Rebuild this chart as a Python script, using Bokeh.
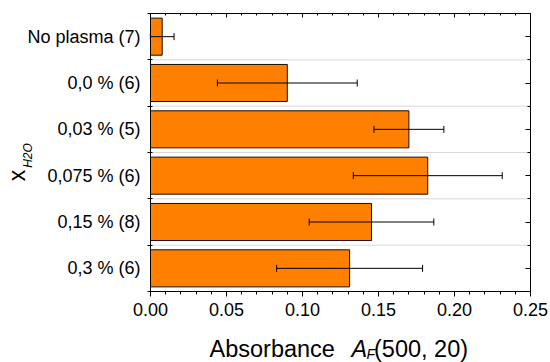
import math
from bokeh.plotting import figure
from bokeh.models import (Range1d, FixedTicker, LinearAxis, Label,
                          Whisker, TeeHead, ColumnDataSource, NumeralTickFormatter,
                          CustomJSTickFormatter)
from bokeh.embed import file_html
from bokeh.resources import INLINE

# ---- data (top row first) ----
categories = ["No plasma (7)", "0,0 % (6)", "0,03 % (5)", "0,075 % (6)", "0,15 % (8)", "0,3 % (6)"]
absorbance = [0.0077, 0.090, 0.170, 0.1824, 0.1454, 0.131]
errors = [0.0078, 0.046, 0.023, 0.049, 0.041, 0.048]
x_ticks = [0.0, 0.05, 0.10, 0.15, 0.20, 0.25]
x_minor_step = 0.01
x_title = ["Absorbance", "A", "F", "(500, 20)"]
y_title = ["x", "H2O"]

FONT = "Liberation Sans"
n = len(categories)
ypos = [n - 1 - i for i in range(n)]
bounds_y = [i - 0.5 for i in range(n + 1)]
lower = [a - e for a, e in zip(absorbance, errors)]
upper = [a + e for a, e in zip(absorbance, errors)]
src = ColumnDataSource(dict(y=ypos, v=absorbance, lo=lower, hi=upper))

# page geometry of the plot box (pixels)
W, H = 550, 362
FL, FR, FT, FB = 150, 530, 13, 291
X0, X1 = x_ticks[0], x_ticks[-1]
Y0, Y1 = -0.5, n - 0.5
sx = (X1 - X0) / (FR - FL)
sy = (Y1 - Y0) / (FB - FT)


def dx(px):
    return X0 + (px - FL) * sx


def dy(py):
    return Y1 - (py - FT) * sy


p = figure(width=W, height=H,
           x_range=Range1d(dx(0), dx(W)), y_range=Range1d(dy(H), dy(0)),
           output_backend="svg", toolbar_location=None, min_border=0,
           x_axis_location="below", y_axis_location="left")
p.background_fill_color = "white"
p.border_fill_color = "white"
p.outline_line_color = None
p.xgrid.visible = False
p.ygrid.visible = False

# dotted separators between categories
inner = bounds_y[1:-1]
p.segment(x0=[X0] * len(inner), x1=[X1] * len(inner), y0=inner, y1=inner,
          line_color="#b0b0b0", line_dash="1 1", line_width=1)

p.hbar(y="y", left=0, right="v", height=0.8, source=src,
       fill_color="#FF8000", line_color="#1a0d00", line_width=1)

w = Whisker(source=src, base="y", lower="lo", upper="hi", dimension="width",
            line_color="black", line_width=1, level="overlay",
            upper_head=TeeHead(size=7, line_color="black", line_width=1),
            lower_head=TeeHead(size=7, line_color="black", line_width=1))
p.add_layout(w)

blank = CustomJSTickFormatter(code="return ''")
x_minor = [round(x_minor_step * i, 2) for i in range(int(round((X1 - X0) / x_minor_step)) + 1)]


def style_axis(ax):
    ax.axis_line_color = "black"
    ax.axis_line_width = 1
    ax.major_tick_line_color = "black"
    ax.minor_tick_line_color = "black"
    ax.major_label_text_font = FONT
    ax.major_label_text_font_size = "18px"
    ax.major_label_text_color = "black"


# bottom axis
xa = p.xaxis[0]
style_axis(xa)
xa.fixed_location = Y0
xa.bounds = (X0, X1)
xa.ticker = FixedTicker(ticks=x_ticks, minor_ticks=x_minor)
xa.formatter = NumeralTickFormatter(format="0.00")
xa.major_tick_in = 0
xa.major_tick_out = 5
xa.minor_tick_in = 0
xa.minor_tick_out = 3
xa.major_label_standoff = 6

# left axis
ya = p.yaxis[0]
style_axis(ya)
ya.fixed_location = X0
ya.bounds = (Y0, Y1)
ya.ticker = FixedTicker(ticks=ypos, minor_ticks=bounds_y)
ya.major_label_overrides = {y: c for y, c in zip(ypos, categories)}
ya.major_tick_in = 0
ya.major_tick_out = 0
ya.minor_tick_in = 2
ya.minor_tick_out = 3
ya.major_label_standoff = 7

# top axis (ticks only)
ta = LinearAxis(ticker=FixedTicker(ticks=x_ticks, minor_ticks=x_minor), formatter=blank)
style_axis(ta)
ta.fixed_location = Y1
ta.bounds = (X0, X1)
ta.major_tick_in = 4
ta.major_tick_out = 0
ta.minor_tick_in = 2
ta.minor_tick_out = 0
ta.major_label_standoff = 0
p.add_layout(ta, "above")

# right axis (ticks only)
ra = LinearAxis(ticker=FixedTicker(ticks=ypos, minor_ticks=bounds_y), formatter=blank)
style_axis(ra)
ra.fixed_location = X1
ra.bounds = (Y0, Y1)
ra.major_tick_in = 5
ra.major_tick_out = 0
ra.minor_tick_in = 3
ra.minor_tick_out = 0
ra.major_label_standoff = 0
p.add_layout(ra, "right")

BASE_FIX = 0.33   # shift (in em) between requested and drawn baseline


def lab(text, px, py, size, style="normal", angle=0.0):
    if angle == 0.0:
        py = py - BASE_FIX * size
    else:
        px = px - BASE_FIX * size
    p.add_layout(Label(x=dx(px), y=dy(py), text=text, text_font=FONT,
                       text_font_size=f"{size}px", text_font_style=style,
                       text_color="black", text_align="left",
                       text_baseline="alphabetic", angle=angle))


# x-axis title: Absorbance A_F(500, 20)   (baseline at page y ~ 356.5)
lab(x_title[0], 209, 356.5, 23.5)
lab(x_title[1], 351, 356.5, 23.5, "italic")
lab(x_title[2], 366, 358, 14, "italic")
lab(x_title[3], 373.5, 356.5, 23.5)

# y-axis title: x_H2O (rotated, reading upward)
lab(y_title[0], 24.3, 180.7, 23, "normal", math.pi / 2)
lab(y_title[1], 31, 167.3, 12, "italic", math.pi / 2)

open("out.html", "w").write(file_html(p, INLINE))
